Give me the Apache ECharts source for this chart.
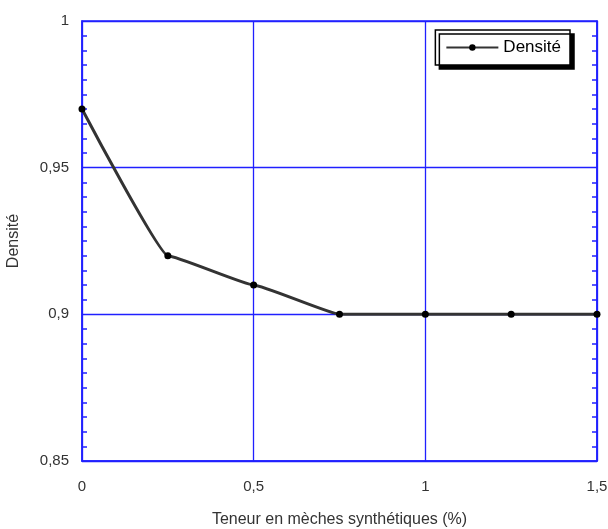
<!DOCTYPE html>
<html>
<head>
<meta charset="utf-8">
<script src="https://cdn.jsdelivr.net/npm/echarts@6/dist/echarts.min.js"></script>
<style>html,body{margin:0;padding:0;background:#fff}#c{width:608px;height:529px}</style>
</head>
<body>
<div id="c"></div>
<script>
const teneur = [0, 0.25, 0.5, 0.75, 1, 1.25, 1.5];
const densite = [0.97, 0.92, 0.91, 0.90, 0.90, 0.90, 0.90];
const seriesName = 'Densité';
const xTitle = 'Teneur en mèches synthétiques (%)';
const yTitle = 'Densité';

const fmt = v => String(Math.round(v * 1000) / 1000).replace('.', ',');
const blue = '#2020ff';
const font = 'Arial, "Liberation Sans", sans-serif';

const yCommon = {
  type: 'value', min: 0.85, max: 1, interval: 0.05,
  axisLine: {show: true, onZero: false, lineStyle: {color: blue, width: 1.5}},
  axisTick: {show: false, inside: true},
  minorTick: {show: true, splitNumber: 10, length: 5, lineStyle: {color: blue, width: 1.5}},
  minorSplitLine: {show: false}
};

const chart = echarts.init(document.getElementById('c'), null, {renderer: 'canvas'});
chart.setOption({
  animation: false,
  backgroundColor: '#fff',
  grid: {left: 82, right: 11, top: 21, bottom: 68, containLabel: false,
         outerBoundsMode: 'none',
         show: true, borderColor: blue, borderWidth: 1.5, backgroundColor: 'transparent'},
  legend: {
    right: 38, top: 30,
    data: [seriesName],
    backgroundColor: '#fff',
    borderColor: '#000', borderWidth: 1.5, borderRadius: 0,
    padding: [9, 9, 9, 10],
    shadowColor: '#000', shadowOffsetX: 4, shadowOffsetY: 4, shadowBlur: 0.01,
    itemWidth: 52, itemHeight: 8, itemGap: 4,
    textStyle: {fontFamily: font, fontSize: 17, color: '#000'}
  },
  xAxis: {
    type: 'value', min: 0, max: 1.5, interval: 0.5, position: 'bottom',
    name: xTitle, nameLocation: 'middle', nameGap: 51,
    nameTextStyle: {fontFamily: font, fontSize: 16, color: '#333'},
    axisLine: {show: true, onZero: false, lineStyle: {color: blue, width: 1.5}},
    axisTick: {show: false},
    axisLabel: {formatter: fmt, margin: 18, fontFamily: font, fontSize: 15, color: '#333'},
    splitLine: {show: true, lineStyle: {color: blue, width: 1.3, type: 'solid'}}
  },
  yAxis: [Object.assign({}, yCommon, {
    position: 'left',
    name: yTitle, nameLocation: 'middle', nameGap: 60,
    nameTextStyle: {fontFamily: font, fontSize: 16, color: '#333'},
    axisLabel: {formatter: fmt, margin: 13, fontFamily: font, fontSize: 15, color: '#333'},
    splitLine: {show: true, lineStyle: {color: blue, width: 1.3, type: 'solid'}}
  }), Object.assign({}, yCommon, {
    position: 'right',
    axisLabel: {show: false},
    splitLine: {show: false}
  })],
  series: [{
    name: seriesName, type: 'line',
    data: teneur.map((x, i) => [x, densite[i]]),
    smooth: 0.1, smoothMonotone: 'x',
    symbol: 'circle', symbolSize: 7,
    itemStyle: {color: '#000'},
    lineStyle: {color: '#333', width: 3},
    clip: false
  }]
});
</script>
</body>
</html>
